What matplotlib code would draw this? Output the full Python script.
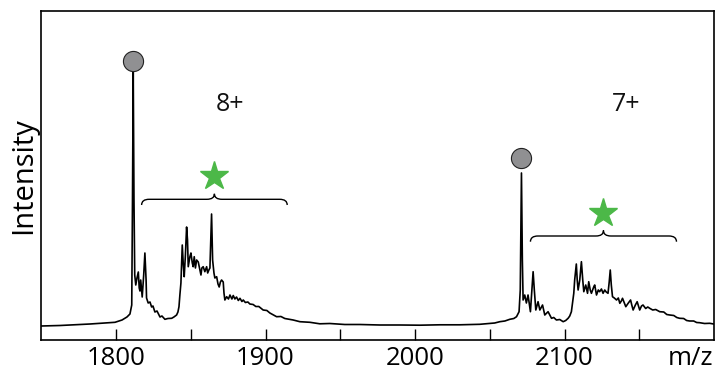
import matplotlib
matplotlib.use("Agg")
import matplotlib.pyplot as plt
from matplotlib.path import Path
from matplotlib.patches import PathPatch

plt.rcParams['font.family'] = ['Open Sans', 'DejaVu Sans']

# Spectrum trace (m/z, relative intensity in arbitrary units)
mz = [1750.0, 1755.8, 1762.5, 1769.2, 1775.9, 1782.6, 1789.2, 1794.6, 1799.3, 1804.0,
      1807.3, 1809.3, 1810.5, 1811.0, 1811.5, 1812.0, 1812.5, 1813.2, 1814.0, 1814.9,
      1815.5, 1816.0, 1816.5, 1817.5, 1818.5, 1819.3, 1820.1, 1820.4, 1821.5, 1822.7,
      1823.8, 1824.7, 1826.0, 1827.4, 1829.4, 1830.7, 1832.7, 1834.7, 1837.2, 1838.7,
      1840.5, 1841.4, 1842.1, 1842.7, 1843.4, 1844.3, 1845.0, 1845.6, 1846.4, 1847.2,
      1847.8, 1848.3, 1849.4, 1850.1, 1851.0, 1851.6, 1852.3, 1853.1, 1853.9, 1855.0,
      1856.1, 1856.8, 1857.4, 1858.3, 1859.4, 1860.6, 1861.3, 1862.1, 1862.8, 1863.9,
      1864.6, 1865.5, 1866.1, 1867.3, 1868.2, 1869.0, 1869.8, 1870.6, 1871.7, 1872.2,
      1872.8, 1874.0, 1875.2, 1876.2, 1877.5, 1878.4, 1879.5, 1880.6, 1881.8, 1882.9,
      1884.2, 1885.1, 1886.5, 1888.2, 1889.5, 1891.7, 1893.5, 1895.5, 1898.4, 1900.9,
      1902.9, 1907.4, 1910.3, 1912.9, 1918.5, 1923.0, 1929.7, 1936.3, 1943.0, 1953.0,
      1963.1, 1976.5, 1989.8, 2003.2, 2016.6, 2030.0, 2043.3, 2053.3,
      2056.7, 2060.1, 2063.4, 2066.1, 2067.9, 2069.6, 2070.4, 2071.2, 2071.8, 2072.3,
      2073.4, 2074.5, 2075.6, 2077.2, 2078.2, 2079.0, 2079.8, 2080.8, 2082.3, 2083.5,
      2085.3, 2086.8, 2089.0, 2091.3, 2092.8, 2094.6, 2096.8, 2099.1, 2100.8, 2102.4,
      2103.5, 2104.6, 2106.2, 2106.8, 2107.9, 2108.5, 2109.1, 2110.2, 2111.3, 2112.2,
      2112.9, 2114.2, 2115.4, 2116.2, 2117.2, 2118.0, 2119.6, 2120.2, 2121.4, 2122.6,
      2123.5, 2124.7, 2125.8, 2126.9, 2127.9, 2129.1, 2129.9, 2130.6, 2131.3, 2132.1,
      2133.3, 2134.8, 2136.0, 2137.0, 2138.0, 2138.8, 2140.0, 2141.0, 2142.7, 2144.2,
      2145.0, 2145.9, 2147.4, 2148.6, 2149.5, 2150.3, 2151.5, 2152.5, 2154.3, 2155.7,
      2157.0, 2159.0, 2161.0, 2163.7, 2166.4, 2168.4, 2170.4, 2173.1, 2175.1, 2177.0,
      2179.7, 2181.7, 2183.7, 2186.4, 2188.4, 2190.4, 2193.7, 2197.1, 2199.8]
intensity = [14.0, 14.2, 14.5, 15.0, 15.5, 16.0, 16.7, 17.2, 17.7, 20.0,
             23.0, 26.0, 35.0, 140.0, 268.0, 140.0, 65.0, 55.0, 62.0, 68.0,
             52.0, 49.0, 60.0, 43.0, 65.0, 87.0, 60.0, 42.0, 37.0, 38.0,
             33.0, 34.0, 28.0, 29.0, 23.0, 24.0, 20.7, 21.5, 21.7, 23.0,
             25.0, 28.0, 33.3, 45.0, 57.0, 95.0, 75.0, 63.3, 85.0, 113.0,
             100.0, 73.3, 83.3, 87.0, 77.0, 73.3, 83.3, 72.0, 80.0, 78.0,
             70.0, 65.0, 72.0, 73.3, 68.3, 73.3, 67.0, 70.0, 72.0, 126.0,
             80.0, 67.0, 62.0, 63.3, 56.0, 53.0, 58.0, 60.0, 58.0, 47.0,
             40.0, 43.3, 41.0, 45.0, 41.0, 44.5, 41.0, 43.0, 39.5, 41.7,
             38.5, 40.0, 37.5, 38.0, 36.0, 35.5, 33.5, 33.5, 30.0, 29.5,
             27.0, 23.3, 23.5, 21.5, 20.0, 18.3, 17.7, 16.2, 16.5, 15.5,
             15.5, 15.0, 15.0, 14.8, 15.2, 15.2, 15.7, 17.0,
             18.3, 19.0, 20.7, 21.5, 23.3, 28.3, 50.0, 167.0, 80.0, 40.0,
             45.0, 37.0, 45.0, 28.3, 50.0, 68.3, 50.0, 30.0, 38.3, 30.0,
             35.0, 25.0, 28.3, 21.7, 22.5, 20.0, 20.5, 18.3, 19.5, 21.7,
             24.0, 28.3, 46.7, 60.0, 76.0, 60.0, 50.0, 60.0, 78.3, 60.0,
             48.3, 55.0, 46.7, 58.3, 50.0, 46.7, 53.3, 55.0, 45.0, 50.0,
             48.3, 51.0, 46.7, 50.0, 48.0, 46.7, 58.0, 70.0, 55.0, 43.3,
             42.0, 40.0, 42.0, 36.7, 39.0, 41.7, 37.0, 33.3, 37.0, 40.0,
             35.0, 30.0, 35.0, 38.3, 34.0, 30.0, 34.0, 35.0, 31.5, 33.0,
             31.7, 30.0, 30.5, 28.3, 28.0, 25.5, 25.0, 24.5, 22.5, 21.7,
             21.5, 19.5, 19.0, 19.0, 17.5, 17.3, 16.5, 16.7, 16.0]

# Annotations
parent_mz = [1811.5, 2071.2]
parent_int = [279.0, 182.3]
charge_labels = ["8+", "7+"]
charge_mz = [1876.0, 2141.0]
charge_int = [236.0, 236.0]
brace_start = [1817.1, 2077.2]
brace_end = [1914.5, 2174.9]
brace_level = [140.7, 104.0]
star_int = [164.0, 126.7]

xticks_major = [1800, 1900, 2000, 2100]
xticks_minor = [1850, 1950, 2050, 2150]
xlabel_text = "m/z"
ylabel_text = "Intensity"

fig = plt.figure(figsize=(7.16, 3.70), dpi=100)
ax = fig.add_axes([41.3 / 716, 1 - 340 / 370, (714 - 41.3) / 716, (340 - 10.7) / 370])

ax.plot(mz, intensity, color='black', lw=1.2, solid_joinstyle='round')
ax.set_xlim(1750, 2200)
ax.set_ylim(0, 329.3)

# Parent-ion circles
ax.plot(parent_mz, parent_int, 'o', ms=14.5, mfc='#909092', mec='#222222', mew=0.8,
        linestyle='none', zorder=5)

# Charge state labels
for x, y, t in zip(charge_mz, charge_int, charge_labels):
    ax.text(x, y, t, ha='center', va='center', fontsize=18, color='#111111')

# Curly braces
for x0, x1, yl in zip(brace_start, brace_end, brace_level):
    xc = (x0 + x1) / 2
    d = 5.7   # end drop
    tip = 5.5  # tip rise
    r = 5.0
    verts = [(x0, yl - d), (x0, yl), (x0 + r, yl),
             (xc - r, yl), (xc, yl), (xc, yl + tip),
             (xc, yl), (xc + r, yl), (x1 - r, yl),
             (x1, yl), (x1, yl - d)]
    codes = [Path.MOVETO, Path.CURVE3, Path.CURVE3,
             Path.LINETO, Path.CURVE3, Path.CURVE3,
             Path.CURVE3, Path.CURVE3, Path.LINETO,
             Path.CURVE3, Path.CURVE3]
    ax.add_patch(PathPatch(Path(verts, codes), fill=False, lw=1.0, ec='black'))

# Green stars
star_mz = [(a + b) / 2 for a, b in zip(brace_start, brace_end)]
ax.plot(star_mz, star_int, marker='*', ms=21, color='#4cb848', mec='#4cb848',
        linestyle='none', zorder=5)

# Axes styling
ax.set_xticks(xticks_major)
ax.set_xticklabels([str(t) for t in xticks_major])
ax.set_xticks(xticks_minor, minor=True)
ax.tick_params(axis='x', which='both', direction='in', length=8, width=1.0,
               labelsize=18.5, pad=4, top=False)
ax.tick_params(axis='y', left=False, labelleft=False)
for s in ax.spines.values():
    s.set_linewidth(1.2)

ax.annotate(xlabel_text, xy=(2184, 0), xycoords=('data', 'axes fraction'),
            xytext=(0, -4), textcoords='offset points', ha='center', va='top',
            fontsize=18.5)
ax.set_ylabel(ylabel_text, fontsize=21, labelpad=2)

fig.savefig('out.png', dpi=100)
